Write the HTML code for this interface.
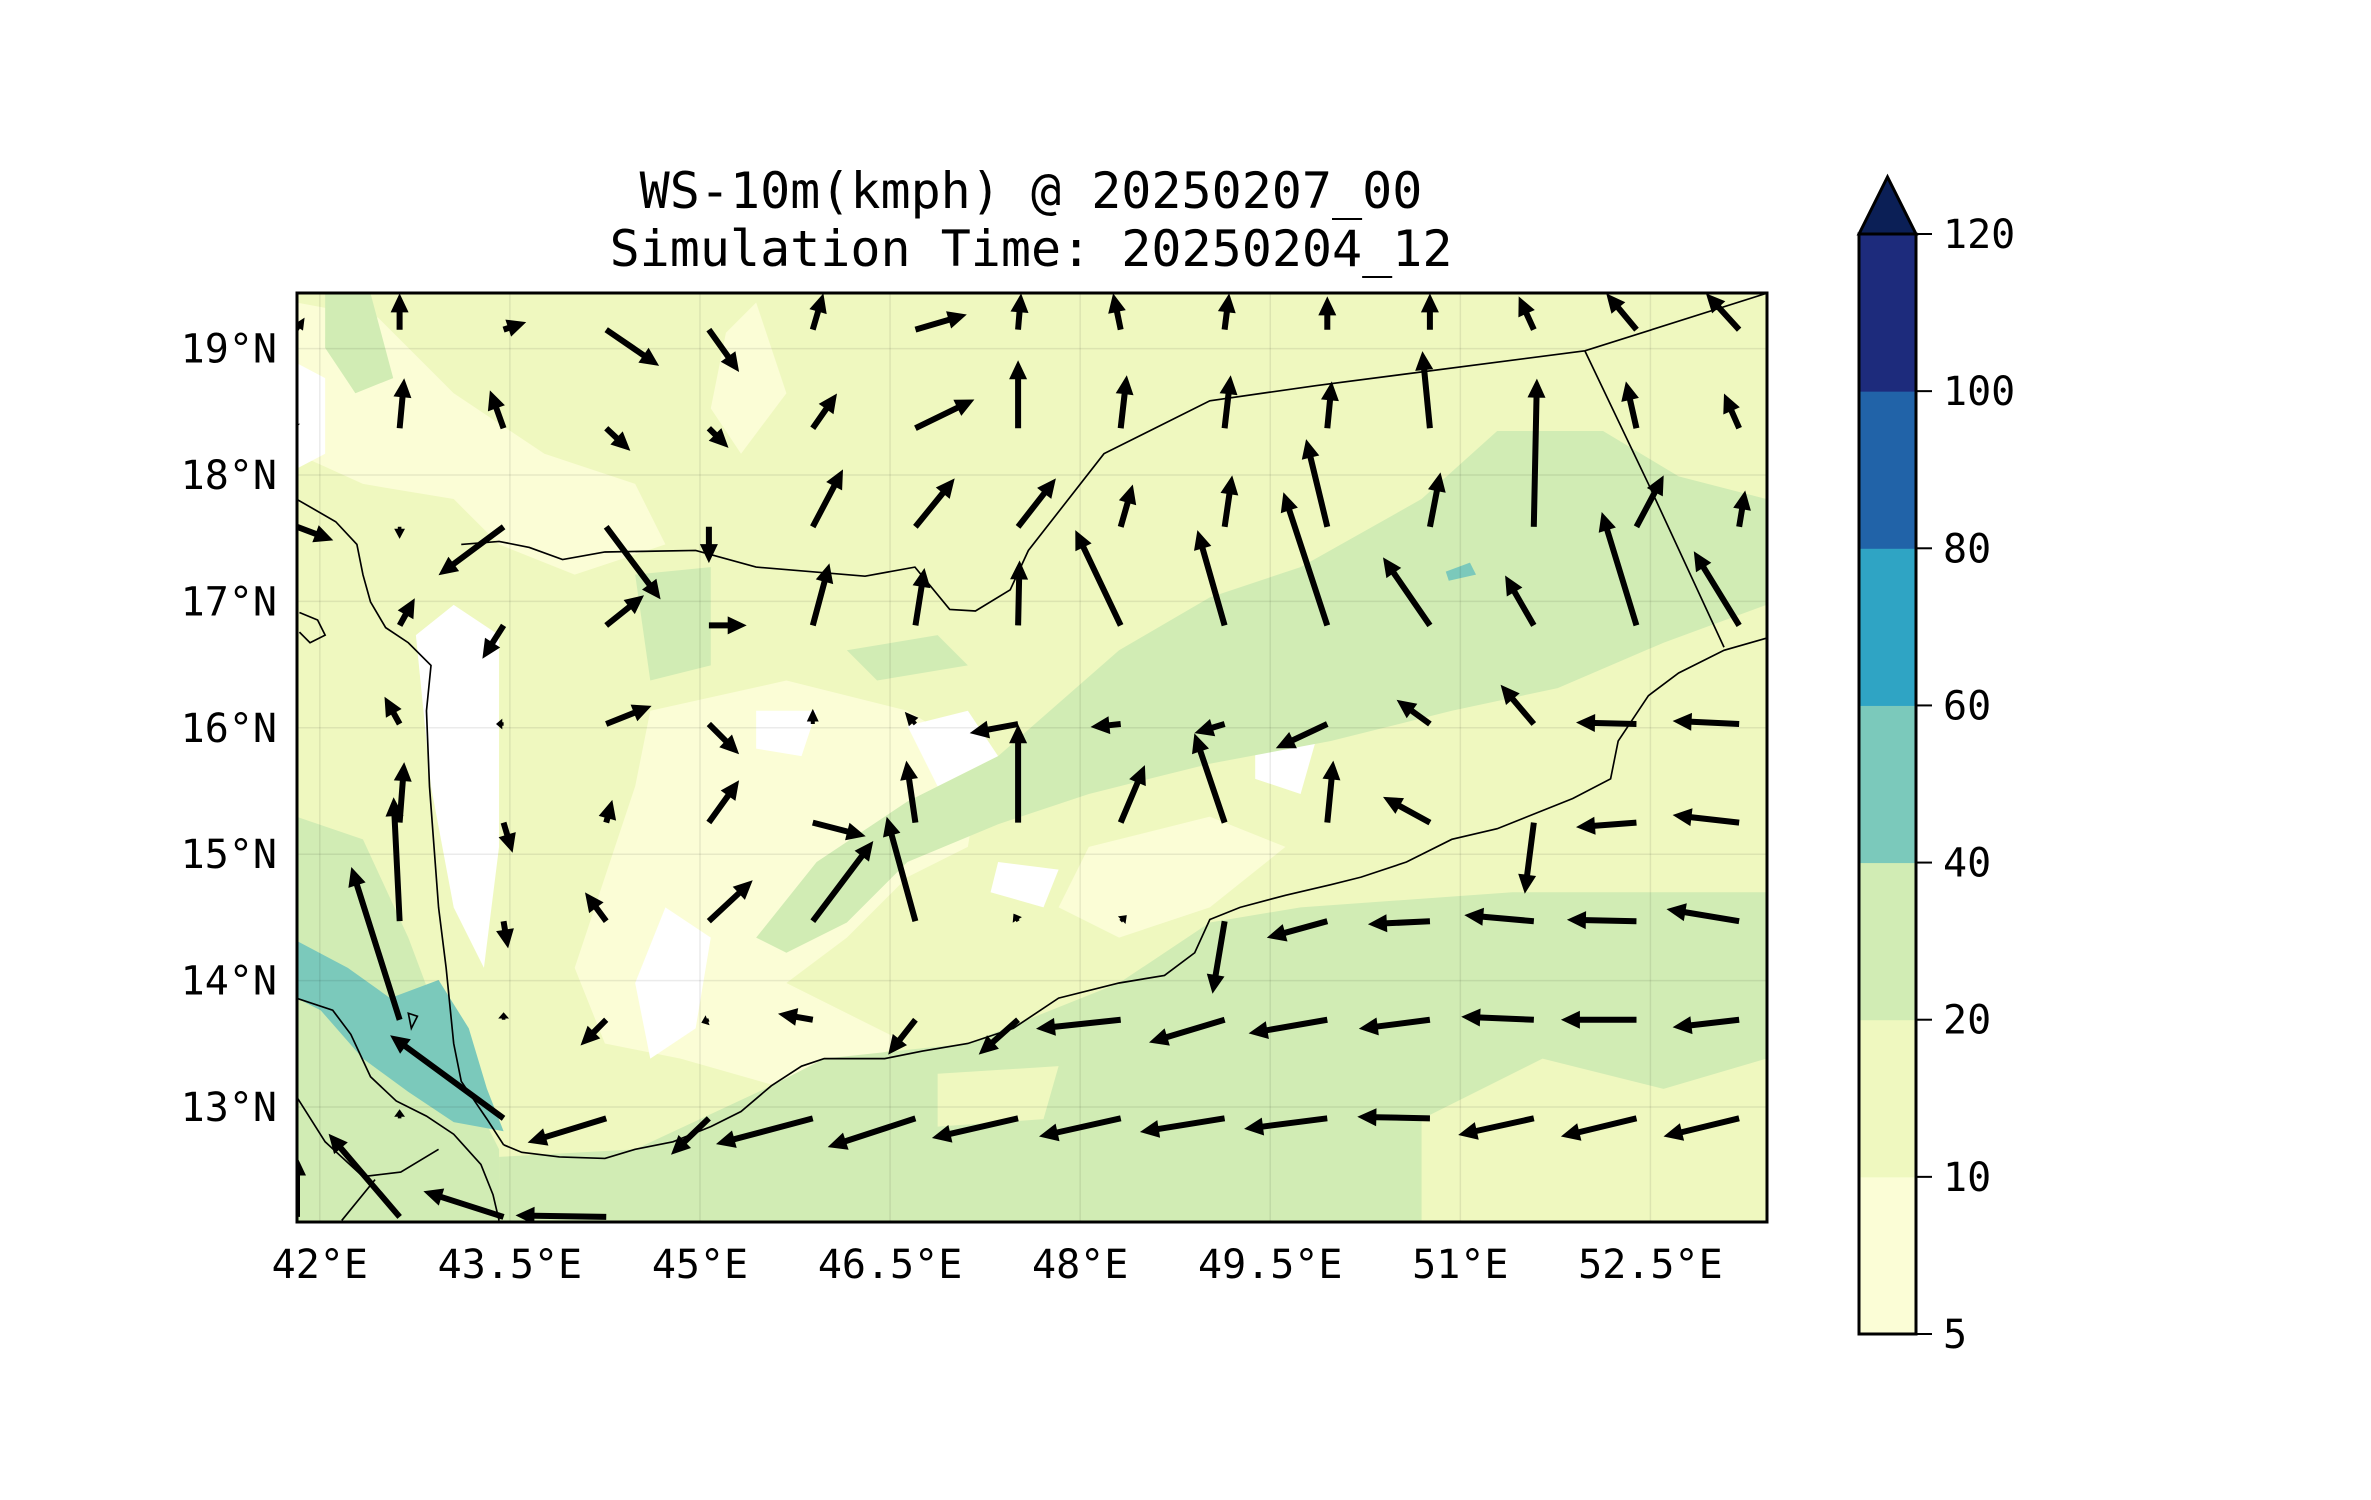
<!DOCTYPE html>
<html><head><meta charset="utf-8"><style>
html,body{margin:0;padding:0;background:#fff;}
svg{display:block;font-family:"DejaVu Sans Mono","Liberation Mono",monospace;}
</style></head><body>
<svg id="fig" width="2371" height="1500" viewBox="0 0 2371 1500" xmlns="http://www.w3.org/2000/svg">
<defs><clipPath id="mapclip"><rect x="297" y="293" width="1470" height="929"/></clipPath></defs>
<text x="1031" y="208" font-size="50" text-anchor="middle">WS-10m(kmph) @ 20250207_00</text>
<text x="1031" y="266" font-size="50" text-anchor="middle">Simulation Time: 20250204_12</text>
<g clip-path="url(#mapclip)">
 <rect x="297" y="293" width="1470" height="929" fill="#eff8bf"/>
 <g transform="scale(1.5123)">
  <g fill="#fbfdd6">
   <path d="M196,200 L250,210 L300,260 L360,300 L420,320 L440,360 L380,380 L330,360 L300,330 L240,320 L196,300Z"/>
   <path d="M430,470 L520,450 L600,470 L650,500 L640,560 L600,580 L560,620 L520,650 L600,690 L520,720 L450,700 L400,690 L380,640 L400,580 L420,520Z"/>
   <path d="M720,560 L800,540 L850,560 L800,600 L740,620 L700,600Z"/>
   <path d="M480,220 L500,200 L520,260 L490,300 L470,270Z"/>
  </g>
  <g fill="#ffffff">
   <path d="M275,420 L300,400 L330,420 L330,560 L320,640 L300,600 L285,520Z"/>
   <path d="M196,240 L215,250 L215,300 L196,310Z"/>
   <path d="M440,600 L470,620 L460,680 L430,700 L420,650Z"/>
   <path d="M600,480 L640,470 L660,500 L620,520Z"/>
   <path d="M830,480 L870,490 L860,525 L830,515Z"/>
   <path d="M500,470 L540,470 L530,500 L500,495Z"/>
   <path d="M660,570 L700,575 L690,600 L655,590Z"/>
  </g>
  <g fill="#d1ecb4">
   <path d="M330,807 L330,765 L420,760 L510,718 L545,700 L640,690 L740,650 L800,610 L860,600 L1000,590 L1168,590 L1168,807Z"/>
   <path d="M500,620 L540,570 L600,530 L660,500 L740,430 L800,395 L860,375 L940,330 L990,285 L1060,285 L1110,315 L1168,330 L1168,400 L1100,425 L1030,455 L960,470 L880,490 L800,505 L720,525 L660,545 L600,570 L560,610 L520,630Z"/>
   <path d="M196,540 L240,555 L270,620 L300,700 L330,760 L330,807 L196,807Z"/>
   <path d="M420,380 L470,375 L470,440 L430,450Z"/>
   <path d="M215,194 L245,194 L260,250 L235,260 L215,230Z"/>
   <path d="M560,430 L620,420 L640,440 L580,450Z"/>
  </g>
  <g fill="#eff8bf">
   <path d="M940,740 L1020,700 L1100,720 L1168,700 L1168,807 L940,807Z"/>
   <path d="M620,710 L700,705 L690,740 L620,745Z"/>
  </g>
  <g fill="#7bc9bb">
   <path d="M196,622 L230,640 L258,660 L290,648 L310,680 L322,720 L333,748 L300,742 L270,722 L240,700 L212,668 L196,660Z"/>
   <path d="M956,378 L972,372 L976,380 L958,384Z"/>
  </g>
 </g>
 <g id="grid" stroke="#000" stroke-opacity="0.08" stroke-width="1.5"></g>
 <g transform="scale(1.5123)" fill="none" stroke="#000" stroke-width="1.1">
  <path d="M333,757 L345,762 L370,765 L400,766 L420,760 L445,755 L470,745 L490,735 L510,718 L530,705 L545,700 L585,700 L610,695 L640,690 L670,680 L700,660 L740,650 L770,645 L790,630 L800,608 L820,600 L850,592 L880,585 L900,580 L930,570 L960,555 L990,548 L1010,540 L1040,528 L1065,515 L1070,490 L1090,460 L1110,445 L1140,430 L1168,422"/>
  <path d="M333,757 L322,740 L305,715 L300,690 L295,640 L290,600 L287,560 L284,520 L282,470 L285,440 L270,425 L255,415 L245,398 L240,380 L236,360 L222,345 L196,330"/>
  <path d="M305,360 L330,358 L350,362 L372,370 L400,365 L460,364 L500,375 L572,381 L605,375 L628,403 L645,404 L668,390 L680,364 L730,300 L800,265 L870,255 L1048,232 L1168,194"/>
  <path d="M1048,232 L1090,320 L1140,428"/>
  <path d="M196,660 L220,668 L232,684 L245,712 L262,728 L282,738 L300,750 L318,770 L326,790 L330,807"/>
  <path d="M196,725 L215,755 L240,778 L265,775 L290,760 M226,807 L248,780"/>
  <path d="M198,405 L210,410 L215,420 L205,425 L198,418 M270,670 L276,672 L272,680Z"/>
 </g>
 <g id="arrows" fill="#000"></g>
</g>
<rect x="297" y="293" width="1470" height="929" fill="none" stroke="#000" stroke-width="3"/>
<g id="xticks" font-size="40" text-anchor="middle"></g>
<g id="yticks" font-size="40" text-anchor="end"></g>
<g id="cbar"></g>
</svg>
<script>
const NS="http://www.w3.org/2000/svg";
// axes
const LON0=41.82, LON1=53.42, LAT0=12.09, LAT1=19.44;
const MX0=297, MX1=1767, MY0=293, MY1=1222;
function xs(lon){return MX0+(lon-LON0)/(LON1-LON0)*(MX1-MX0);}
function ys(lat){return MY1-(lat-LAT0)/(LAT1-LAT0)*(MY1-MY0);}
const lonTicks=[42,43.5,45,46.5,48,49.5,51,52.5];
const lonLabels=["42°E","43.5°E","45°E","46.5°E","48°E","49.5°E","51°E","52.5°E"];
const latTicks=[13,14,15,16,17,18,19];
const latLabels=["13°N","14°N","15°N","16°N","17°N","18°N","19°N"];
// wind grid
const lons=[41.82,42.63,43.45,44.26,45.07,45.89,46.70,47.51,48.32,49.14,49.95,50.76,51.58,52.39,53.20];
const lats=[19.15,18.37,17.59,16.81,16.03,15.25,14.47,13.69,12.91,12.13];
// u (east) per row, v (north) per row
const u0=[5,0,15,35,20,7,34,2,-5,3,0,0,-10,-20,-22];
const v0=[8,24,5,-24,-28,24,10,24,24,24,22,24,22,24,24];
const u1=[-3,3,-9,16,13,16,39,0,4,4,3,-5,0,-7,-10];
const v1=[3,33,25,-15,-13,23,19,45,35,35,31,51,0,31,23];
const u2=[24,0,-43,36,0,20,26,25,8,5,-14,7,2,18,4];
const v2=[-9,-8,-32,-48,-24,38,32,32,28,34,58,36,98,34,24];
const u3=[0,10,-14,25,25,11,6,1,-30,-18,-29,-31,-19,-23,-30];
const v3=[0,18,-22,20,0,41,38,43,63,63,88,45,33,75,49];
const u4=[0,-10,-5,30,20,0,-7,-32,-20,-20,-34,-22,-22,-40,-44];
const v4=[0,18,0,12,-20,10,8,-6,-2,-6,-16,16,26,1,2];
const u5=[0,3,6,4,20,35,-6,0,16,-20,4,-31,-6,-40,-44];
const v5=[0,40,-20,15,28,-9,41,65,38,59,41,17,-47,-3,5];
const u6=[0,-4,3,-14,29,40,-19,-3,4,-8,-40,-41,-46,-46,-48];
const v6=[0,82,-18,19,27,53,69,5,4,-48,-11,-2,4,1,8];
const u7=[0,-32,0,-17,-5,-23,-18,-26,-56,-50,-52,-47,-48,-50,-44];
const v7=[0,101,5,-17,-2,4,-23,-23,-6,-15,-9,-6,2,0,-5];
const u8=[0,0,-75,-52,-25,-64,-58,-57,-54,-56,-55,-48,-50,-50,-50];
const v8=[0,6,55,-16,-24,-17,-19,-13,-12,-9,-7,1,-11,-12,-12];
const u9=[0,-47,-53,-60,0,0,0,0,0,0,0,0,0,0,0];
const v9=[40,55,17,1,0,0,0,0,0,0,0,0,0,0,0];
const U=[u0,u1,u2,u3,u4,u5,u6,u7,u8,u9], V=[v0,v1,v2,v3,v4,v5,v6,v7,v8,v9];
const SCALE=1.5123;
const cbLevels=["5","10","20","40","60","80","100","120"];
const cbColors=["#fbfdd6","#eff8bf","#d1ecb4","#7bc9bb","#2fa4c4","#2163a8","#1d2b7c"];
const cbExtendColor="#0b1f56";

function mk(tag,attrs,parent){const e=document.createElementNS(NS,tag);for(const k in attrs)e.setAttribute(k,attrs[k]);parent.appendChild(e);return e;}

const grid=document.getElementById('grid');
lonTicks.forEach(l=>{const e=mk('line',{x1:xs(l),x2:xs(l),y1:MY0,y2:MY1},grid);

});
latTicks.forEach(l=>{const e=mk('line',{x1:MX0,x2:MX1,y1:ys(l),y2:ys(l)},grid);

});

const xt=document.getElementById('xticks');
lonTicks.forEach((l,i)=>{const t=mk('text',{x:xs(l),y:1278},xt);t.textContent=lonLabels[i];

});
const yt=document.getElementById('yticks');
latTicks.forEach((l,i)=>{const t=mk('text',{x:277,y:ys(l)+14},yt);t.textContent=latLabels[i];

});

const ag=document.getElementById('arrows');
for(let j=0;j!==lats.length;j++){for(let i=0;i!==lons.length;i++){
 const du=U[j][i]*SCALE, dv=-V[j][i]*SCALE; const L=Math.hypot(du,dv); if(2>L) continue;
 const x0=xs(lons[i]), y0=ys(lats[j]);
 const ux=du/L, uy=dv/L, px=-uy, py=ux;
 let hl=19, hw=9, sw=3;
 if(hl*1.2>L){const f=L/(hl*1.2);hl*=f;hw*=Math.max(f,0.6);sw*=Math.max(f,0.6);}
 const bx=x0+du-ux*hl, by=y0+dv-uy*hl;
 const pts=[[x0+px*sw,y0+py*sw],[bx+px*sw,by+py*sw],[bx+px*hw,by+py*hw],[x0+du,y0+dv],[bx-px*hw,by-py*hw],[bx-px*sw,by-py*sw],[x0-px*sw,y0-py*sw]];
 const p=mk('polygon',{points:pts.map(q=>q[0].toFixed(1)+','+q[1].toFixed(1)).join(' ')},ag);
 
 
}}

const cb=document.getElementById('cbar');
const CX0=1859, CX1=1916, CY0=234, CY1=1334, seg=(CY1-CY0)/cbColors.length;
cbColors.forEach((c,k)=>{const r=mk('rect',{x:CX0,y:CY1-(k+1)*seg,width:CX1-CX0,height:seg+0.5,fill:c},cb);

});
const tri=mk('polygon',{points:`${CX0},${CY0} ${(CX0+CX1)/2},177 ${CX1},${CY0}`,fill:cbExtendColor,stroke:'#000','stroke-width':3},cb);


const fr=mk('rect',{x:CX0,y:CY0,width:CX1-CX0,height:CY1-CY0,fill:'none',stroke:'#000','stroke-width':3},cb);


cbLevels.forEach((lv,k)=>{const y=CY1-k*seg;
 const tk=mk('line',{x1:CX1,x2:CX1+16,y1:y,y2:y,stroke:'#000','stroke-width':2},cb);
 
 
 const t=mk('text',{x:1943,y:y+14,'font-size':40},cb);t.textContent=lv;
 
 });
</script>
</body></html>
